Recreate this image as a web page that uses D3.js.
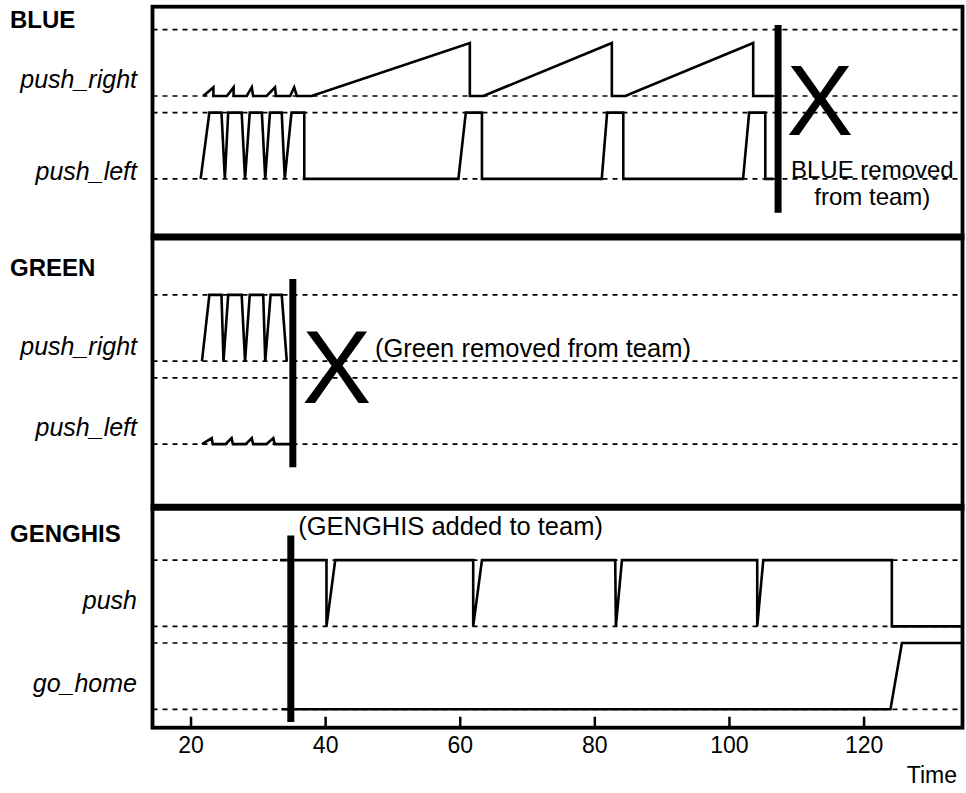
<!DOCTYPE html>
<html>
<head>
<meta charset="utf-8">
<script src="https://cdn.jsdelivr.net/npm/d3@7"></script>
<style>
body{margin:0;background:#fff;}
svg{display:block;font-family:"Liberation Sans",Arial,Helvetica,sans-serif;}
</style>
</head>
<body>
<div id="chart"></div>
<script>
// time axis
var timeTicks = [20, 40, 60, 80, 100, 120];
var timeRange = [14.35, 134.7];

// behaviour activation per channel, 0 = off (low line), 1 = on (high line)
var blueRight = [[21.9,0],[23.4,0.13],[23.4,0],[25.4,0],[26.4,0.13],[26.4,0],[28.35,0],[29.1,0.13],[29.3,0],
  [31.3,0],[32.55,0.13],[32.7,0],[34.8,0],[35.4,0.13],[35.8,0],[38.0,0],[61.5,0.8],[61.5,0],[63.5,0],
  [82.6,0.8],[82.6,0],[84.6,0],[103.6,0.8],[103.6,0],[106.6,0]];
var blueLeft = [[21.5,0],[22.8,1],[24.6,1],[25.1,0],[25.6,1],[27.6,1],[28.1,0],[28.8,1],[30.6,1],[31.1,0],
  [31.8,1],[33.55,1],[34.0,0],[35.0,1],[36.9,1],[36.9,0],[59.8,0],[60.9,1],[63.3,1],[63.3,0],[81.1,0],
  [81.9,1],[84.3,1],[84.3,0],[102.1,0],[103.0,1],[105.4,1],[105.4,0],[106.6,0]];
var greenRight = [[21.7,0],[22.8,1],[24.6,1],[24.9,0],[25.6,1],[27.6,1],[28.1,0],[28.8,1],[30.8,1],[31.1,0],
  [31.9,1],[33.55,1],[34.3,0]];
var greenLeft = [[21.7,0],[23.15,0.09],[23.3,0],[25.2,0],[26.1,0.09],[26.3,0],[28.2,0],[29.1,0.09],[29.3,0],
  [31.3,0],[32.3,0.09],[32.5,0],[35.0,0]];
var genghisPush = [[33.3,1],[40.2,1],[40.2,0],[41.5,1],[62.0,1],[62.0,0],[63.3,1],[83.1,1],[83.2,0],[84.1,1],
  [104.2,1],[104.2,0],[105.1,1],[124.2,1],[124.2,0],[134.7,0]];
var genghisHome = [[33.5,0],[124.0,0],[125.7,1],[134.7,1]];

var groups = ["BLUE", "GREEN", "GENGHIS"];
var channelNames = ["push_right", "push_left", "push_right", "push_left", "push", "go_home"];
var channelSeries = [blueRight, blueLeft, greenRight, greenLeft, genghisPush, genghisHome];
var channelBase = [9.25, 8, 5.25, 4, 1.25, 0];
var labelLevel = [9.49, 8.1, 5.45, 4.24, 1.62, 0.37];
var groupLevel = [10.4, 6.66, 2.66];
var separators = [7.124, 3.047];
var levelRange = [-0.2775, 10.597];

// team changes
var eventTime = [107.3, 35.2, 34.9];
var eventTop = [10.32, 6.49, 2.62];
var eventBottom = [7.49, 3.65, -0.19];

// annotations
var notes = [
  {text:"X", t:113.5, v:8.655, anchor:"middle", size:100},
  {text:"BLUE removed", t:121.3, v:8.006, anchor:"middle", size:24},
  {text:"from team)", t:121.3, v:7.599, anchor:"middle", size:24},
  {text:"X", t:41.7, v:4.62, anchor:"middle", size:104},
  {text:"(Green removed from team)", t:47.4, v:5.31, anchor:"start", size:25.5},
  {text:"(GENGHIS added to team)", t:36.0, v:2.63, anchor:"start", size:25.5}
];

var W = 966, H = 793;
var svg = d3.select("#chart").append("svg").attr("width", W).attr("height", H);

var x = d3.scaleLinear().domain(timeRange).range([152.5, 962.5]);
var y = d3.scaleLinear().domain(levelRange).range([727.7, 6.7]);

svg.append("clipPath").attr("id", "plotclip")
  .append("rect")
  .attr("x", x(timeRange[0])).attr("y", y(levelRange[1]))
  .attr("width", x(timeRange[1]) - x(timeRange[0]))
  .attr("height", y(levelRange[0]) - y(levelRange[1]));

var plot = svg.append("g").attr("clip-path", "url(#plotclip)");

// dotted reference lines for on / off of each channel
var refLevels = [];
channelBase.forEach(function(b){ refLevels.push(b, b + 1); });
plot.selectAll("line.ref").data(refLevels).enter().append("line")
  .attr("class", "ref")
  .attr("x1", x(timeRange[0])).attr("x2", x(timeRange[1]))
  .attr("y1", function(d){ return y(d); }).attr("y2", function(d){ return y(d); })
  .attr("stroke", "#000").attr("stroke-width", 1.7)
  .attr("stroke-dasharray", "5,5");

// activation traces
channelSeries.forEach(function(series, k){
  var line = d3.line()
    .x(function(d){ return x(d[0]); })
    .y(function(d){ return y(channelBase[k] + d[1]); });
  plot.append("path").datum(series)
    .attr("d", line)
    .attr("fill", "none")
    .attr("stroke", "#000")
    .attr("stroke-width", 2.6)
    .attr("stroke-linejoin", "miter");
});

// team change bars
plot.selectAll("line.event").data(eventTime).enter().append("line")
  .attr("class", "event")
  .attr("x1", function(d){ return x(d); }).attr("x2", function(d){ return x(d); })
  .attr("y1", function(d, i){ return y(eventTop[i]); })
  .attr("y2", function(d, i){ return y(eventBottom[i]); })
  .attr("stroke", "#000").attr("stroke-width", 7);

// frame and panel separators
svg.append("rect")
  .attr("x", x(timeRange[0])).attr("y", y(levelRange[1]))
  .attr("width", x(timeRange[1]) - x(timeRange[0]))
  .attr("height", y(levelRange[0]) - y(levelRange[1]))
  .attr("fill", "none").attr("stroke", "#000").attr("stroke-width", 3.8);
svg.selectAll("line.sep").data(separators).enter().append("line")
  .attr("class", "sep")
  .attr("x1", x(timeRange[0]) - 1.9).attr("x2", x(timeRange[1]) + 1.9)
  .attr("y1", function(d){ return y(d); }).attr("y2", function(d){ return y(d); })
  .attr("stroke", "#000").attr("stroke-width", 7);

// time axis, ticks pointing inside
var axis = svg.append("g")
  .attr("transform", "translate(0," + y(levelRange[0]) + ")")
  .call(d3.axisBottom(x).tickValues(timeTicks).tickSizeInner(-11).tickSizeOuter(0).tickPadding(9));
axis.select(".domain").remove();
axis.selectAll(".tick line").attr("stroke", "#000").attr("stroke-width", 2.5);
axis.selectAll(".tick text")
  .attr("font-family", "Liberation Sans, Arial, sans-serif")
  .attr("font-size", 23).attr("fill", "#000");

svg.append("text")
  .attr("x", 957).attr("y", 783)
  .attr("text-anchor", "end")
  .attr("font-size", 23)
  .text("Time");

// left labels
svg.selectAll("text.group").data(groups).enter().append("text")
  .attr("class", "group")
  .attr("x", 10).attr("y", function(d, i){ return y(groupLevel[i]); })
  .attr("dy", "0.36em")
  .attr("font-weight", "bold").attr("font-size", 24)
  .text(function(d){ return d; });

svg.selectAll("text.chan").data(channelNames).enter().append("text")
  .attr("class", "chan")
  .attr("x", 137).attr("y", function(d, i){ return y(labelLevel[i]); })
  .attr("dy", "0.3em")
  .attr("text-anchor", "end")
  .attr("font-style", "italic").attr("font-size", 25)
  .text(function(d){ return d; });

svg.selectAll("text.note").data(notes).enter().append("text")
  .attr("class", "note")
  .attr("x", function(d){ return x(d.t); })
  .attr("y", function(d){ return y(d.v); })
  .attr("text-anchor", function(d){ return d.anchor; })
  .attr("font-size", function(d){ return d.size; })
  .text(function(d){ return d.text; });
</script>
</body>
</html>
